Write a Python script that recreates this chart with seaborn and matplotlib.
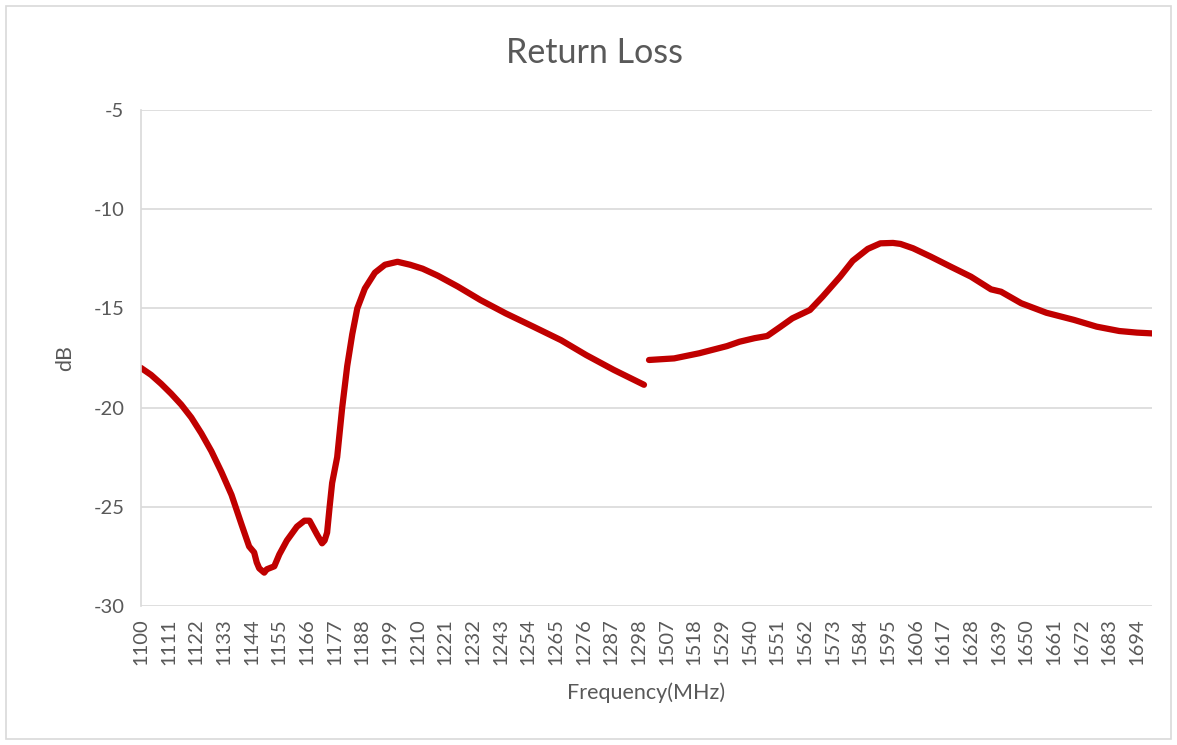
import numpy as np
import pandas as pd
import matplotlib
matplotlib.use('Agg')
import matplotlib.pyplot as plt
import seaborn as sns
from matplotlib.patches import Rectangle

# low band
freq_low = [1100, 1104, 1108, 1112, 1116, 1120, 1124, 1128, 1132, 1136, 1140, 1143, 1145,
            1146, 1147, 1149, 1150, 1151, 1153, 1155, 1158, 1162, 1165, 1167, 1170, 1172,
            1173, 1174, 1175, 1176, 1178, 1180, 1182, 1184, 1186, 1189, 1193, 1197, 1202,
            1207, 1212, 1218, 1226, 1235, 1245, 1256, 1267, 1277, 1288, 1300]
db_low = [-18.0, -18.35, -18.8, -19.3, -19.85, -20.5, -21.3, -22.2, -23.25, -24.4, -25.9, -27.0, -27.3,
          -27.8, -28.1, -28.32, -28.15, -28.1, -28.0, -27.4, -26.7, -26.0, -25.7, -25.7, -26.4, -26.84,
          -26.7, -26.3, -25.0, -23.8, -22.5, -20.0, -17.9, -16.3, -15.0, -14.0, -13.2, -12.8, -12.65,
          -12.8, -13.0, -13.35, -13.9, -14.58, -15.25, -15.92, -16.6, -17.35, -18.1, -18.85]

# high band
freq_high = [1500, 1510, 1520, 1531, 1536, 1542, 1547, 1552, 1557, 1564, 1569, 1576, 1581, 1587,
             1592, 1597, 1600, 1605, 1612, 1620, 1628, 1636, 1640, 1648, 1658, 1669, 1678, 1687,
             1694, 1700]
db_high = [-17.6, -17.52, -17.26, -16.9, -16.68, -16.5, -16.39, -15.95, -15.5, -15.08, -14.41, -13.4,
           -12.6, -12.0, -11.72, -11.7, -11.75, -11.97, -12.39, -12.9, -13.4, -14.04, -14.16, -14.74,
           -15.22, -15.58, -15.92, -16.14, -16.22, -16.26]

# category axis like the spreadsheet: 1100..1300, one empty slot, 1500..1700
categories = [str(f) for f in range(1100, 1301)] + [''] + [str(f) for f in range(1500, 1701)]
pos = {c: i for i, c in enumerate(categories) if c}

low = pd.DataFrame({'x': [pos[str(f)] for f in freq_low], 'dB': db_low})
high = pd.DataFrame({'x': [pos[str(f)] for f in freq_high], 'dB': db_high})

sns.set_style('white')
plt.rcParams['font.family'] = ['Lato', 'DejaVu Sans']
grey = '#595959'
red = '#C00000'

fig = plt.figure(figsize=(11.77, 7.45), dpi=100)
ax = fig.add_axes([141 / 1177, 1 - 606 / 745, (1152 - 141) / 1177, (606 - 110) / 745])

for d in (low, high):
    sns.lineplot(data=d, x='x', y='dB', ax=ax, color=red, linewidth=4.5,
                 solid_capstyle='round', solid_joinstyle='round')

ax.set_xlim(0, len(categories) - 1)
ax.set_ylim(-30, -5)
ax.set_yticks(np.arange(-30, -4, 5))
ax.set_yticklabels([str(v) for v in range(-30, -4, 5)], color=grey, fontsize=14.5)
ticks = list(range(0, len(categories), 11))
ax.set_xticks(ticks)
ax.set_xticklabels([categories[t] for t in ticks], rotation=90, color=grey, fontsize=14.5)
ax.tick_params(axis='x', length=0, pad=9)
ax.tick_params(axis='y', length=0, pad=12)
ax.grid(axis='y', color='#D9D9D9', linewidth=1.2)
for s in ('top', 'right', 'bottom'):
    ax.spines[s].set_visible(False)
ax.spines['left'].set_color('#D9D9D9')
ax.spines['left'].set_linewidth(1.2)

ax.set_xlabel('Frequency(MHz)', color=grey, fontsize=15.5, labelpad=12)
ax.set_ylabel('dB', color=grey, fontsize=15.5, labelpad=13)
fig.text(0.505, 1 - 53 / 745, 'Return Loss', ha='center', va='center', color=grey, fontsize=24.5)

fig.patches.append(Rectangle((6 / 1177, 6 / 745), 1 - 12 / 1177, 1 - 12 / 745,
                             transform=fig.transFigure, fill=False, edgecolor='#D9D9D9', linewidth=1.2))

fig.savefig('out.png', dpi=100)
